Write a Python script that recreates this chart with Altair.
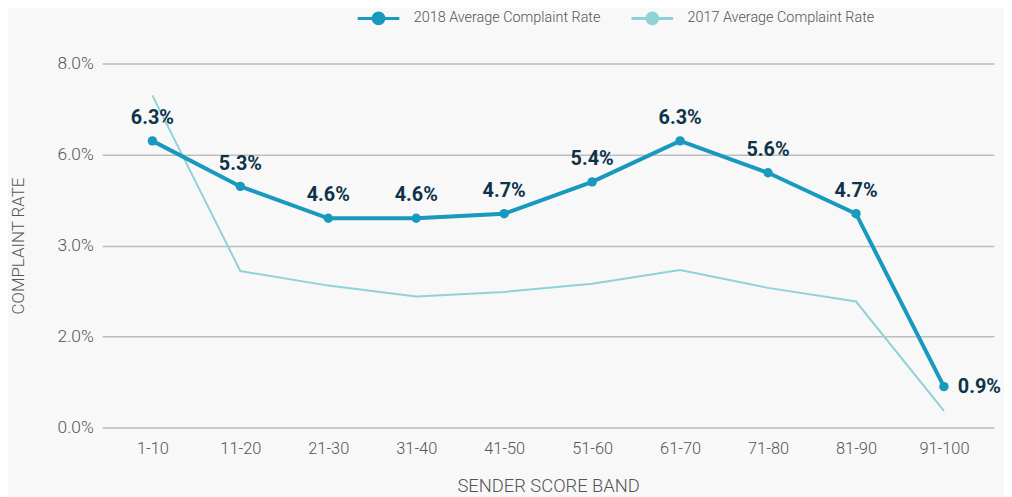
import altair as alt
import pandas as pd

bands = ["1-10", "11-20", "21-30", "31-40", "41-50", "51-60", "61-70", "71-80", "81-90", "91-100"]
rate_2018 = [6.3, 5.3, 4.6, 4.6, 4.7, 5.4, 6.3, 5.6, 4.7, 0.9]
labels_2018 = ["6.3%", "5.3%", "4.6%", "4.6%", "4.7%", "5.4%", "6.3%", "5.6%", "4.7%", "0.9%"]
rate_2017 = [7.3, 3.44, 3.12, 2.88, 2.98, 3.16, 3.46, 3.07, 2.77, 0.37]
series_names = ["2018 Average Complaint Rate", "2017 Average Complaint Rate"]
series_colors = ["#1899bd", "#8fd3d7"]
y_tick_values = [0, 2, 4, 6, 8]
y_tick_labels = ["0.0%", "2.0%", "3.0%", "6.0%", "8.0%"]

rows = []
for i, b in enumerate(bands):
    rows.append({"band": b, "series": series_names[0], "rate": rate_2018[i], "label": labels_2018[i],
                 "last": i == len(bands) - 1})
for i, b in enumerate(bands):
    rows.append({"band": b, "series": series_names[1], "rate": rate_2017[i], "label": "", "last": False})
df = pd.DataFrame(rows)

label_expr = " : ".join(
    [f"datum.value == {v} ? '{l}'" for v, l in zip(y_tick_values, y_tick_labels)]
) + " : ''"

FONT = "Roboto"
GREY = "#555555"

x_enc = alt.X("band:N", sort=bands,
              scale=alt.Scale(type="point", padding=0.57),
              axis=alt.Axis(title="SENDER SCORE BAND", labelAngle=0, ticks=False, domain=False,
                            grid=False, labelFontSize=16.5, labelColor=GREY, labelPadding=13,
                            labelFontWeight=300, titleFontWeight=300,
                            titleFontSize=18.5, titleColor=GREY,
                            titlePadding=20, labelFont=FONT, titleFont=FONT))
y_enc = alt.Y("rate:Q",
              scale=alt.Scale(domain=[0, 8], nice=False),
              axis=alt.Axis(title="COMPLAINT RATE", values=y_tick_values, labelExpr=label_expr,
                            ticks=False, domain=False, grid=True, gridColor="#bdbdbd", gridWidth=1.5,
                            labelFontSize=17.5, labelColor=GREY, labelPadding=9,
                            labelFontWeight=300, titleFontWeight=300,
                            titleFontSize=17, titleColor=GREY,
                            titlePadding=30, labelFont=FONT, titleFont=FONT))

scale_c = alt.Scale(domain=series_names, range=series_colors)
color_enc = alt.Color("series:N", scale=scale_c, legend=None)

def make_legend():
    return alt.Legend(
        title=None, orient="none", direction="horizontal",
        legendX=256, legendY=-68,
        symbolType="M-1,0H1M-0.26,0A0.26,0.26,0,1,0,0.26,0A0.26,0.26,0,1,0,-0.26,0Z",
        symbolSize=1764, symbolStrokeWidth=3,
        labelFontSize=14.5, labelColor=GREY, labelFont=FONT, labelFontWeight=300,
        labelLimit=400, labelOffset=13, columnPadding=24)

base = alt.Chart(df)

legend_layer = base.transform_filter("false").mark_point(filled=True, opacity=1).encode(
    x=x_enc, y=y_enc,
    fill=alt.Fill("series:N", scale=scale_c, legend=make_legend()),
    stroke=alt.Stroke("series:N", scale=scale_c, legend=make_legend()))

line17 = base.transform_filter(alt.datum.series == series_names[1]).mark_line(strokeWidth=2).encode(
    x=x_enc, y=y_enc, color=color_enc)
line18 = base.transform_filter(alt.datum.series == series_names[0]).mark_line(strokeWidth=4).encode(
    x=x_enc, y=y_enc, color=color_enc)
pts18 = base.transform_filter(alt.datum.series == series_names[0]).mark_circle(size=90, opacity=1).encode(
    x=x_enc, y=y_enc, color=color_enc)
txt18 = base.transform_filter((alt.datum.series == series_names[0]) & (alt.datum.last == False)).mark_text(
    dy=-23, fontSize=20, fontWeight="bold", color="#0e3349", font=FONT, baseline="middle").encode(
    x=x_enc, y=y_enc, text="label:N")
txtlast = base.transform_filter((alt.datum.series == series_names[0]) & (alt.datum.last == True)).mark_text(
    dx=14, fontSize=20, fontWeight="bold", color="#0e3349", font=FONT, align="left", baseline="middle").encode(
    x=x_enc, y=y_enc, text="label:N")

chart = alt.layer(legend_layer, line17, line18, pts18, txt18, txtlast).properties(
    width=899, height=367,
    autosize=alt.AutoSizeParams(type="none"),
    padding={"left": 95, "top": 54, "right": 10, "bottom": 68},
    background="#f8f8f8",
).configure_view(stroke=None)

chart.save("out.html", embed_options={"renderer": "svg", "actions": False})
